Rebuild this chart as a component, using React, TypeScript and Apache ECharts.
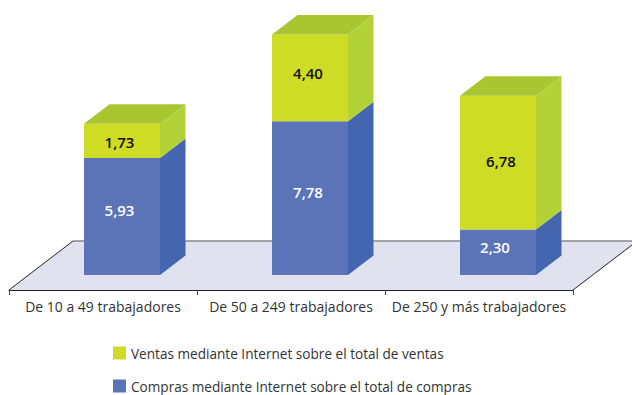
import React, { useEffect, useRef } from "react";
import * as echarts from "echarts";

const categories = ["De 10 a 49 trabajadores", "De 50 a 249 trabajadores", "De 250 y más trabajadores"];
const compras = [5.93, 7.78, 2.3];
const ventas = [1.73, 4.4, 6.78];
const comprasName = "Compras mediante Internet sobre el total de compras";
const ventasName = "Ventas mediante Internet sobre el total de ventas";

const FONT = "'Open Sans', sans-serif";
const BASE = 15;
const OFF = 19;
const BAR = 76;
const DX = 25.5;
const DY = 19.5;

const poly = (points: number[][], fill: string, z2 = 0) => ({
  type: "polygon",
  z2,
  shape: { points },
  style: { fill, stroke: null },
});

const barSeries = (
  name: string,
  data: number[][],
  front: string,
  side: string,
  top: string | null,
  textColor: string,
  nudge: number[][]
) => ({
  type: "custom",
  name,
  itemStyle: { color: front },
  encode: { x: 0, y: [1, 2] },
  data,
  z: 3,
  renderItem: (p: any, api: any) => {
    const [cx, y0] = api.coord([api.value(0), api.value(1)]);
    const [, y1] = api.coord([api.value(0), api.value(1) + api.value(2)]);
    const l = cx - OFF;
    const r = l + BAR;
    const a = y0 - BASE;
    const b = y1 - BASE;
    const children: any[] = [
      poly([[r, a], [r + DX, a - DY], [r + DX, b - DY], [r, b]], side),
      poly([[l, a], [r, a], [r, b], [l, b]], front),
    ];
    if (top) children.push(poly([[l, b], [r, b], [r + DX, b - DY], [l + DX, b - DY]], top));
    const [nx, ny] = nudge[p.dataIndex];
    children.push({
      type: "text",
      z2: 5,
      x: l + BAR / 2 + nx,
      y: (a + b) / 2 + ny,
      style: {
        text: api.value(2).toFixed(2).replace(".", ","),
        fill: textColor,
        font: `600 15px ${FONT}`,
        align: "center",
        verticalAlign: "middle",
      },
    });
    return { type: "group", children };
  },
});

export default function App() {
  const ref = useRef<HTMLDivElement>(null);
  useEffect(() => {
    document.body.style.margin = "0";
    const chart = echarts.init(ref.current!, null, { renderer: "svg" });
    chart.setOption({
      animation: false,
      backgroundColor: "#ffffff",
      grid: { left: 9, top: 13.5, width: 564, height: 276.5 },
      xAxis: {
        type: "category",
        data: categories,
        axisLine: { lineStyle: { color: "#222222", width: 1 } },
        axisTick: { show: true, interval: 0, alignWithLabel: false, length: 5, lineStyle: { color: "#444444" } },
        axisLabel: { color: "#333333", fontFamily: FONT, fontSize: 14, margin: 9, interval: 0 },
      },
      yAxis: { type: "value", min: 0, max: 14, show: false },
      legend: {
        orient: "vertical",
        left: 113,
        top: 346,
        padding: 0,
        itemWidth: 13,
        itemHeight: 13,
        itemGap: 19,
        icon: "rect",
        data: [ventasName, comprasName],
        textStyle: { color: "#333333", fontFamily: FONT, fontSize: 13.6 },
        selectedMode: false,
      },
      series: [
        {
          type: "custom",
          name: "floor",
          data: [[0]],
          z: 1,
          silent: true,
          renderItem: (p: any) => {
            const { x, y, width, height } = p.coordSys;
            const by = y + height;
            return {
              type: "group",
              children: [
                poly([[x, by], [x + 64, by - 49], [632, by - 49], [632, by - 45], [x + width, by]], "#e0e2f0"),
                { type: "line", shape: { x1: x, y1: by, x2: x + 64, y2: by - 49 }, style: { stroke: "#222222", lineWidth: 1 } },
                { type: "line", shape: { x1: x + 64, y1: by - 49, x2: 632, y2: by - 49 }, style: { stroke: "#888888", lineWidth: 1.5 } },
                { type: "line", shape: { x1: x + width, y1: by, x2: 632, y2: by - 45 }, style: { stroke: "#222222", lineWidth: 1 } },
              ],
            };
          },
        },
        barSeries(comprasName, compras.map((v, i) => [i, 0, v]), "#5b74b8", "#4466b0", null, "#ffffff", [[-2.5, -6], [-2, -6], [-3, -5]]),
        barSeries(ventasName, ventas.map((v, i) => [i, compras[i], v]), "#cfdc25", "#b3d238", "#a9c630", "#111111", [[-2.5, 1], [-2, -5], [3, -2]]),
      ],
    });
    return () => chart.dispose();
  }, []);
  return <div ref={ref} style={{ width: 632, height: 395 }} />;
}
